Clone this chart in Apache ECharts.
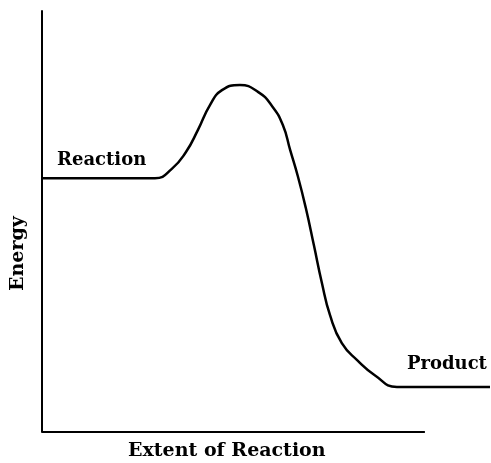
<!DOCTYPE html>
<html>
<head>
<meta charset="utf-8">
<script src="https://cdn.jsdelivr.net/npm/echarts@6/dist/echarts.min.js"></script>
<style>
  html, body { margin: 0; padding: 0; background: #fff; }
  #chart { width: 491px; height: 463px; }
</style>
</head>
<body>
<div id="chart"></div>
<script>
// extent of reaction (x) and energy (y)
var extent = [0, 29.5, 33.9, 37.6, 40.7, 43.9, 47.0, 51.7, 56.4, 60.1, 62.9, 64.8, 66.8, 68.9, 71.0, 73.1, 75.2, 78.3, 82.5, 86.9, 92.7, 117.0];
var energy = [60.3, 60.3, 62.5, 66.5, 71.7, 77.7, 81.2, 82.4, 80.8, 77.4, 72.9, 67.0, 60.8, 53.2, 44.4, 35.4, 27.8, 21.1, 16.9, 13.5, 10.7, 10.7];
var stateLabels = ['Reaction', 'Product'];
// the drawn x axis stops short of the curve's right end
var axisEnd = 100;
var xMax = 117;

var myChart = echarts.init(document.getElementById('chart'));
var fontFamily = '"DejaVu Serif", "Liberation Serif", serif';

function stateLabel(text, dx, dy) {
    return {
        show: true, position: 'top', formatter: text, align: 'left',
        offset: [dx, dy], color: '#000', fontFamily: fontFamily, fontSize: 18, fontWeight: 'bold'
    };
}

// state labels sit just above the flat ends of the curve
var points = extent.map(function (x, i) {
    var item = { value: [x, energy[i]] };
    if (i === 0) item.label = stateLabel(stateLabels[0], 15, -4);
    if (i === extent.length - 2) item.label = stateLabel(stateLabels[1], 10, -9);
    return item;
});

option = {
    animation: false,
    backgroundColor: '#fff',
    grid: {
        left: 42,
        right: 1,
        top: 11,
        bottom: 31,
        outerBoundsMode: 'none',
        containLabel: false
    },
    xAxis: {
        type: 'value',
        min: 0,
        max: xMax,
        name: 'Extent of Reaction',
        nameLocation: 'start',
        nameGap: 0,
        nameTextStyle: {
            color: '#000', fontFamily: fontFamily, fontSize: 19, fontWeight: 'bold',
            align: 'left', verticalAlign: 'top', padding: [10, 0, 0, 86]
        },
        axisLine: { show: false },
        axisTick: { show: false },
        axisLabel: { show: false },
        splitLine: { show: false }
    },
    yAxis: {
        type: 'value',
        min: 0,
        max: 100,
        axisLine: { show: true, lineStyle: { color: '#000', width: 2 } },
        axisTick: { show: false },
        axisLabel: { show: false },
        splitLine: { show: false }
    },
    graphic: [{
        type: 'text',
        x: 9,
        y: 291,
        rotation: Math.PI / 2,
        style: { text: 'Energy', fill: '#000', font: 'bold 19px ' + fontFamily }
    }],
    series: [{
        type: 'line',
        data: [[0, 0], [axisEnd, 0]],
        showSymbol: false,
        lineStyle: { color: '#000', width: 2 },
        silent: true
    }, {
        type: 'line',
        data: points,
        smooth: 0.5,
        showSymbol: true,
        symbolSize: 0,
        lineStyle: { color: '#000', width: 2.5 }
    }]
};

myChart.setOption(option);
</script>
</body>
</html>
